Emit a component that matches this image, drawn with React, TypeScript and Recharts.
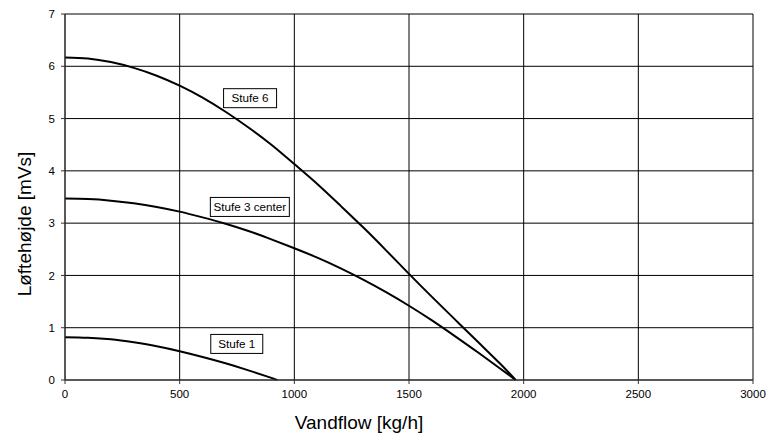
import React from 'react';
import { LineChart, Line, XAxis, YAxis, CartesianGrid, ReferenceDot } from 'recharts';

const xTicks = [0, 500, 1000, 1500, 2000, 2500, 3000];
const yTicks = [0, 1, 2, 3, 4, 5, 6, 7];

const stufe6Flow = [0, 100, 200, 300, 400, 500, 600, 700, 800, 900, 1000, 1100, 1200, 1300, 1400, 1500, 1600, 1700, 1800, 1900, 1965];
const stufe6Head = [6.17, 6.15, 6.08, 5.97, 5.82, 5.63, 5.4, 5.13, 4.83, 4.5, 4.13, 3.75, 3.34, 2.92, 2.48, 2.03, 1.59, 1.16, 0.73, 0.3, 0];

const stufe3Flow = [0, 100, 200, 300, 400, 500, 600, 700, 800, 900, 1000, 1100, 1200, 1300, 1400, 1500, 1600, 1700, 1800, 1900, 1965];
const stufe3Head = [3.47, 3.46, 3.43, 3.38, 3.31, 3.22, 3.11, 2.99, 2.85, 2.69, 2.52, 2.34, 2.14, 1.92, 1.68, 1.42, 1.14, 0.84, 0.53, 0.21, 0];

const stufe1Flow = [0, 100, 200, 300, 400, 500, 600, 700, 800, 900, 925];
const stufe1Head = [0.82, 0.81, 0.78, 0.72, 0.645, 0.55, 0.44, 0.32, 0.185, 0.04, 0];

// label boxes: text, anchor in data units
const labelNames = ['Stufe 6', 'Stufe 3 center', 'Stufe 1'];
const labelFlow = [807, 806, 749];
const labelHead = [5.39, 3.31, 0.69];
const labelWidths = [53, 79, 52];

const toPoints = (xs: number[], ys: number[]) => xs.map((x, i) => ({ x, y: ys[i] }));

const FONT = '"Liberation Sans", Arial, sans-serif';

const makeBox = (text: string, w: number) => (props: any) => {
  const { cx, cy } = props;
  const h = 19;
  return (
    <g>
      <rect x={cx - w / 2} y={cy - h / 2} width={w} height={h} fill="#fff" stroke="#000" strokeWidth={1} />
      <text x={cx} y={cy + 4} textAnchor="middle" fontSize={11.7} fontFamily={FONT} fill="#000">
        {text}
      </text>
    </g>
  );
};

export default function App() {
  const series = [
    toPoints(stufe6Flow, stufe6Head),
    toPoints(stufe3Flow, stufe3Head),
    toPoints(stufe1Flow, stufe1Head),
  ];

  return (
    <div style={{ position: 'absolute', left: 0, top: 0, background: '#fff' }}>
      <LineChart width={767} height={440} margin={{ top: 14, right: 14, bottom: 0, left: 0 }}>
        <CartesianGrid stroke="#000" strokeWidth={1} />
        <XAxis
          type="number"
          dataKey="x"
          domain={[0, 3000]}
          ticks={xTicks}
          height={60}
          stroke="#333"
          tickSize={4}
          tickMargin={6}
          tick={{ fill: '#000', fontSize: 11.5, fontFamily: FONT }}
          allowDataOverflow
          label={{
            content: (p: any) => {
              const vb = p.viewBox;
              return (
                <text x={vb.x + vb.width / 2 - 50} y={vb.y + 49} textAnchor="middle" fontSize={19} fontFamily={FONT} fill="#000">
                  Vandflow [kg/h]
                </text>
              );
            },
          }}
        />
        <YAxis
          type="number"
          domain={[0, 7]}
          ticks={yTicks}
          width={65}
          stroke="#333"
          tickSize={4}
          tickMargin={6}
          tick={{ fill: '#000', fontSize: 11.5, fontFamily: FONT }}
          label={{
            content: (p: any) => {
              const vb = p.viewBox;
              const cx = vb.x + 31;
              const cy = vb.y + vb.height / 2 + 27;
              return (
                <text x={cx} y={cy} transform={`rotate(-90 ${cx} ${cy})`} textAnchor="middle" fontSize={19} fontFamily={FONT} fill="#000">
                  Løftehøjde [mVs]
                </text>
              );
            },
          }}
        />
        {series.map((d, i) => (
          <Line
            key={i}
            data={d}
            dataKey="y"
            type="natural"
            stroke="#000"
            strokeWidth={2}
            dot={false}
            isAnimationActive={false}
          />
        ))}
        {labelNames.map((name, i) => (
          <ReferenceDot
            key={name}
            x={labelFlow[i]}
            y={labelHead[i]}
            ifOverflow="visible"
            shape={makeBox(name, labelWidths[i])}
          />
        ))}
      </LineChart>
    </div>
  );
}
